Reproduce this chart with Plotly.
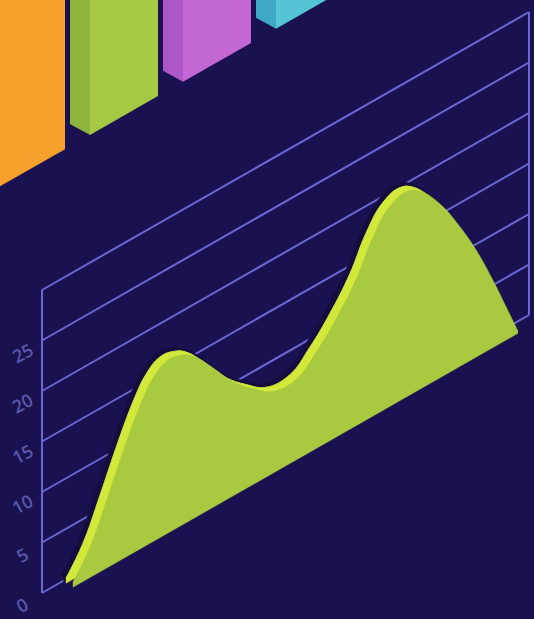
import numpy as np
import plotly.graph_objects as go

# ---------------- data ----------------
tick_values = [0, 5, 10, 15, 20, 25, 30]
tick_labels = ["0", "5", "10", "15", "20", "25"]

# area series: position along axis (%) and value
curve_pos = [4.2, 7.7, 11.2, 14.5, 18.0, 20.7, 23.5, 26.2, 28.9, 33.0, 37.1, 41.2, 45.3,
             50.2, 54.3, 58.4, 62.5, 65.8, 69.3, 72.8, 75.5, 79.6, 83.7, 87.1, 90.5, 93.3, 95.6]
curve_vals = [0.5, 3.0, 6.8, 10.6, 14.2, 16.2, 17.1, 16.9, 16.1, 13.8, 11.3, 9.5, 8.1,
              8.0, 9.6, 11.8, 14.6, 17.7, 19.8, 20.3, 19.6, 17.2, 13.8, 10.5, 6.6, 3.1, 0.2]

# bar series (tops run off the top of the picture)
bar_names = ["A", "B", "C", "D"]
bar_values = [60, 55, 50, 45]
bar_front_colors = ["#f6a12b", "#a7c842", "#c368d3", "#55c4d4"]
bar_side_colors = ["#e18b22", "#8db43c", "#ad57c6", "#3fa8c2"]

# ---------------- projection ----------------
W, H = 534, 619
BG = "#1a1250"
GRID = "#6a67d2"
WALL_X0, WALL_Y0 = 42, 593
WALL_LEN = 487
SLOPE = 278 / 487
UNIT = 10.1
C30, S30 = np.cos(np.radians(30)), 0.5


def wall(p, v, depth=0.0):
    p = np.asarray(p, dtype=float)
    v = np.asarray(v, dtype=float)
    x = WALL_X0 + p / 100 * WALL_LEN + depth * C30
    y = WALL_Y0 - p / 100 * WALL_LEN * SLOPE - v * UNIT + depth * S30
    return x, y


fig = go.Figure()

# grid lines of the wall
for tv in tick_values:
    x, y = wall([0, 100], [tv, tv])
    fig.add_trace(go.Scatter(x=x, y=y, mode="lines", line=dict(color=GRID, width=2),
                             hoverinfo="skip", showlegend=False))
for p in (0, 100):
    x, y = wall([p, p], [0, tick_values[-1]])
    fig.add_trace(go.Scatter(x=x, y=y, mode="lines", line=dict(color=GRID, width=2),
                             hoverinfo="skip", showlegend=False))

# area slab: shadow, back face (rim) then front face
def add_area(depth, color, lw):
    bx, by = wall([curve_pos[0], curve_pos[-1]], [0, 0], depth)
    fig.add_trace(go.Scatter(x=bx, y=by, mode="lines", line=dict(color=color, width=0.5),
                             hoverinfo="skip", showlegend=False))
    cx, cy = wall(curve_pos, curve_vals, depth)
    fig.add_trace(go.Scatter(x=cx, y=cy, mode="lines",
                             line=dict(color=color, width=lw, shape="spline", smoothing=1.2),
                             fill="tonexty", fillcolor=color, hoverinfo="skip", showlegend=False))

add_area(1, "#140d3e", 5)      # soft shadow on wall
add_area(4, "#d2e93b", 1)      # top surface / rim
add_area(12, "#a9c940", 0.5)   # front face

# isometric bars
BX0, BY0 = -3, 188
BSTEP = 93
FW, SW = 68, 20
for i, (name, val) in enumerate(zip(bar_names, bar_values)):
    fx = BX0 + i * BSTEP
    fy = BY0 - i * BSTEP * SLOPE
    h = val * UNIT
    lx, ly = fx - SW, fy - SW * 0.55
    rx, ry = fx + FW, fy - FW * SLOPE
    fig.add_trace(go.Scatter(x=[lx, fx, fx, lx, lx], y=[ly, fy, fy - h, ly - h, ly],
                             mode="lines", fill="toself", fillcolor=bar_side_colors[i],
                             line=dict(width=0, color=bar_side_colors[i]), hoverinfo="skip", showlegend=False))
    fig.add_trace(go.Scatter(x=[fx, rx, rx, fx, fx], y=[fy, ry, ry - h, fy - h, fy],
                             mode="lines", fill="toself", fillcolor=bar_front_colors[i],
                             line=dict(width=0, color=bar_front_colors[i]), hoverinfo="skip", showlegend=False))

# tick labels
for tv, lab in zip(tick_values, tick_labels):
    x, y = wall(0, tv)
    fig.add_annotation(x=float(x) - 20, y=float(y) + 12, text=lab, showarrow=False,
                       textangle=-28, font=dict(family="Open Sans", size=18, color="#5a58ab", weight=600),
                       xanchor="center", yanchor="middle")

fig.update_layout(
    width=W, height=H, margin=dict(l=0, r=0, t=0, b=0),
    paper_bgcolor=BG, plot_bgcolor=BG,
    xaxis=dict(range=[0, W], visible=False, fixedrange=True),
    yaxis=dict(range=[H, 0], visible=False, fixedrange=True),
    showlegend=False,
)
fig.write_html("out.html")
